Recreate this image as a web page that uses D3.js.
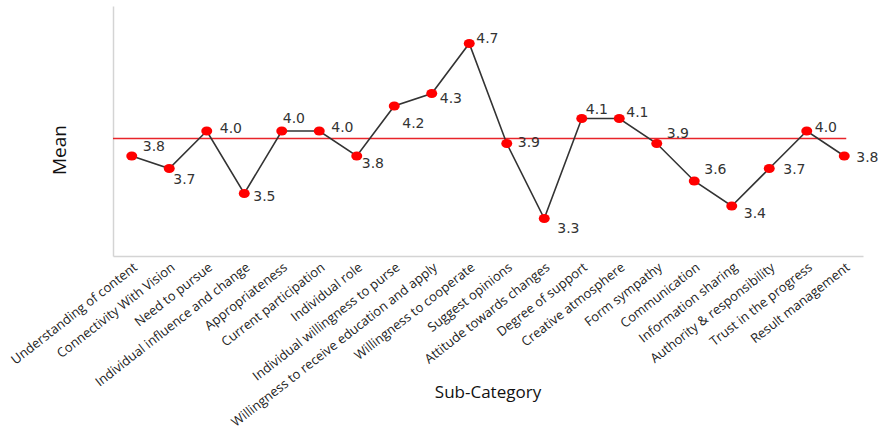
<!DOCTYPE html>
<html>
<head>
<meta charset="utf-8">
<script src="https://cdn.jsdelivr.net/npm/d3@7"></script>
<style>
  body { margin: 0; background: #fff; }
  svg { display: block; }
</style>
</head>
<body>
<script>
// Sub-categories along the x axis
const categories = [
  'Understanding of content', 'Connectivity With Vision', 'Need to pursue',
  'Individual influence and change', 'Appropriateness', 'Current participation',
  'Individual role', 'Individual willingness to purse',
  'Willingness to receive education and apply', 'Willingness to cooperate',
  'Suggest opinions', 'Attitude towards changes', 'Degree of support',
  'Creative atmosphere', 'Form sympathy', 'Communication', 'Information sharing',
  'Authority & responsibility', 'Trust in the progress', 'Result management'
];

// Mean score of each sub-category
const means = [3.8, 3.7, 4.0, 3.5, 4.0, 4.0, 3.8, 4.2, 4.3, 4.7,
               3.9, 3.3, 4.1, 4.1, 3.9, 3.6, 3.4, 3.7, 4.0, 3.8];

// Overall reference (red line)
const referenceMean = 3.94;

// Value label nudges [dx, dy] relative to each point (layout only)
const labelNudge = [[11, -10], [4, 11], [13, -3], [9, 3], [1, -13], [12, -4], [5, 7],
                    [8, 17], [8, 5], [7, -5], [11, -1], [13, 10], [4, -9], [7, -6],
                    [10, -10], [10, -12], [12, 7], [14, 1], [8, -4], [12, 1]];

const width = 882, height = 430;
const margin = { left: 113, right: 863, top: 6, bottom: 256 };

const svg = d3.select('body').append('svg')
    .attr('width', width)
    .attr('height', height);

const x = d3.scalePoint()
    .domain(categories)
    .range([margin.left, margin.right])
    .padding(0.5);

const y = d3.scaleLinear()
    .domain([3, 5])
    .range([margin.bottom, margin.top]);

// Axis lines, no ticks
const xAxis = svg.append('g')
    .attr('transform', `translate(0,${margin.bottom})`)
    .call(d3.axisBottom(x).tickSize(0).tickPadding(0));
xAxis.select('.domain').attr('stroke', '#d4d4d4').attr('stroke-width', 1.5);
xAxis.selectAll('text')
    .attr('font-family', '"Open Sans", sans-serif')
    .attr('font-size', 13)
    .attr('fill', '#222')
    .attr('text-anchor', 'end')
    .attr('dy', 0)
    .attr('transform', 'translate(6,13) rotate(-38)');

const yAxis = svg.append('g')
    .attr('transform', `translate(${margin.left},0)`)
    .call(d3.axisLeft(y).tickSize(0).tickValues([]));
yAxis.select('.domain').attr('stroke', '#d4d4d4').attr('stroke-width', 1.5);

// Reference line
svg.append('line')
    .attr('x1', margin.left)
    .attr('x2', x(categories[categories.length - 1]) + 2)
    .attr('y1', y(referenceMean))
    .attr('y2', y(referenceMean))
    .attr('stroke', '#e8242a')
    .attr('stroke-width', 1.5);

const data = categories.map((c, i) => ({ cat: c, value: means[i], nudge: labelNudge[i] }));

// Line
svg.append('path')
    .datum(data)
    .attr('fill', 'none')
    .attr('stroke', '#333')
    .attr('stroke-width', 1.6)
    .attr('d', d3.line().x(d => x(d.cat)).y(d => y(d.value)));

// Points
svg.selectAll('.pt')
    .data(data)
    .enter().append('ellipse')
    .attr('class', 'pt')
    .attr('cx', d => x(d.cat))
    .attr('cy', d => y(d.value))
    .attr('rx', 5.5)
    .attr('ry', 4.5)
    .attr('fill', '#ff0000');

// Value labels
svg.selectAll('.val')
    .data(data)
    .enter().append('text')
    .attr('class', 'val')
    .attr('x', d => x(d.cat) + d.nudge[0])
    .attr('y', d => y(d.value) + d.nudge[1])
    .attr('dy', '0.35em')
    .attr('font-family', '"DejaVu Sans", sans-serif')
    .attr('font-size', 14)
    .attr('fill', '#333')
    .text(d => d.value.toFixed(1));

// Axis titles
svg.append('text')
    .attr('transform', 'translate(66,150) rotate(-90)')
    .attr('text-anchor', 'middle')
    .attr('font-family', '"Open Sans", sans-serif')
    .attr('font-size', 19)
    .attr('fill', '#111')
    .text('Mean');

svg.append('text')
    .attr('x', 488)
    .attr('y', 398)
    .attr('text-anchor', 'middle')
    .attr('font-family', '"Open Sans", sans-serif')
    .attr('font-size', 17)
    .attr('fill', '#111')
    .text('Sub-Category');
</script>
</body>
</html>
